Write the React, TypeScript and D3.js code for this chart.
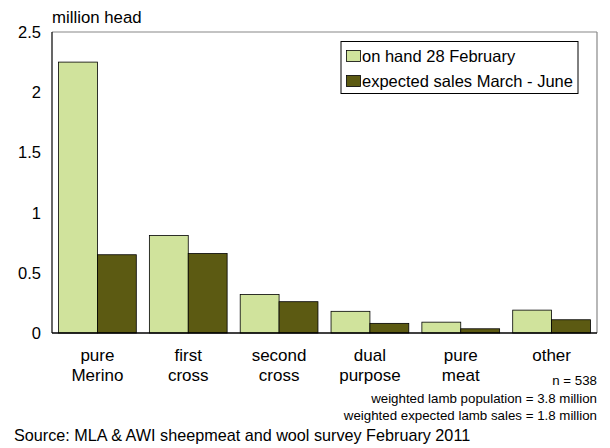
import React from "react";
import * as d3 from "d3";

const categories: string[][] = [
  ["pure", "Merino"],
  ["first", "cross"],
  ["second", "cross"],
  ["dual", "purpose"],
  ["pure", "meat"],
  ["other", ""],
];
const onHand = [2.25, 0.81, 0.32, 0.18, 0.09, 0.19];
const expectedSales = [0.65, 0.66, 0.26, 0.08, 0.035, 0.11];
const seriesNames = ["on hand 28 February", "expected sales March - June"];
const seriesColors = ["#d0e39c", "#5c5a12"];
const yTicks = [0, 0.5, 1, 1.5, 2, 2.5];
const notes = [
  "n = 538",
  "weighted lamb population = 3.8 million",
  "weighted expected lamb sales = 1.8 million",
];

export default function App() {
  const W = 610, H = 448;
  const left = 52, right = 597, top = 32, bottom = 333;
  const font = "Liberation Sans, Arial, Helvetica, sans-serif";
  const x0 = d3
    .scaleBand<number>()
    .domain(categories.map((_, i) => i))
    .range([left, right])
    .paddingInner(0.144)
    .paddingOuter(0.072);
  const x1 = d3.scaleBand<number>().domain([0, 1]).range([0, x0.bandwidth()]);
  const y = d3.scaleLinear().domain([0, 2.5]).range([bottom, top]);
  const series = [onHand, expectedSales];

  return (
    <svg width={W} height={H} style={{ position: "absolute", left: 0, top: 0 }}>
      <rect width={W} height={H} fill="#fff" />
      <text x={left} y={23} fontFamily={font} fontSize={16.8} fill="#000">
        million head
      </text>
      {yTicks.map((t) => (
        <text
          key={t}
          x={41}
          y={y(t) + 6}
          textAnchor="end"
          fontFamily={font}
          fontSize={16.5}
          fill="#000"
        >
          {t}
        </text>
      ))}
      {series.map((vals, s) =>
        vals.map((v, i) => (
          <rect
            key={`${s}-${i}`}
            x={(x0(i) as number) + (x1(s) as number)}
            y={y(v)}
            width={x1.bandwidth()}
            height={bottom - y(v)}
            fill={seriesColors[s]}
            stroke="#000"
            strokeWidth={0.8}
          />
        ))
      )}
      <line x1={left} x2={right} y1={top} y2={top} stroke="#888" strokeWidth={1.2} />
      <line x1={right} x2={right} y1={top} y2={bottom} stroke="#888" strokeWidth={1.2} />
      <line x1={left} x2={left} y1={top} y2={bottom} stroke="#000" strokeWidth={1.2} />
      <line x1={left} x2={right} y1={bottom} y2={bottom} stroke="#000" strokeWidth={1.4} />
      {categories.map((c, i) => {
        const cx = (x0(i) as number) + x0.bandwidth() / 2;
        return (
          <text key={i} textAnchor="middle" fontFamily={font} fontSize={17} fill="#000">
            <tspan x={cx} y={361}>{c[0]}</tspan>
            <tspan x={cx} y={381}>{c[1]}</tspan>
          </text>
        );
      })}
      <rect x={341} y={41.5} width={237} height={52} fill="#fff" stroke="#000" strokeWidth={1} />
      {seriesNames.map((n, s) => (
        <g key={n}>
          <rect
            x={346.5}
            y={50.5 + s * 25}
            width={14}
            height={11}
            fill={seriesColors[s]}
            stroke="#000"
            strokeWidth={0.8}
          />
          <text x={362} y={61.5 + s * 25} fontFamily={font} fontSize={16.5} fill="#000">
            {n}
          </text>
        </g>
      ))}
      {notes.map((n, i) => (
        <text
          key={n}
          x={597}
          y={385 + i * 17.5}
          textAnchor="end"
          fontFamily={font}
          fontSize={13.3}
          fill="#000"
        >
          {n}
        </text>
      ))}
      <text x={14} y={441} fontFamily={font} fontSize={16.2} fill="#000">
        Source: MLA &amp; AWI sheepmeat and wool survey February 2011
      </text>
    </svg>
  );
}
